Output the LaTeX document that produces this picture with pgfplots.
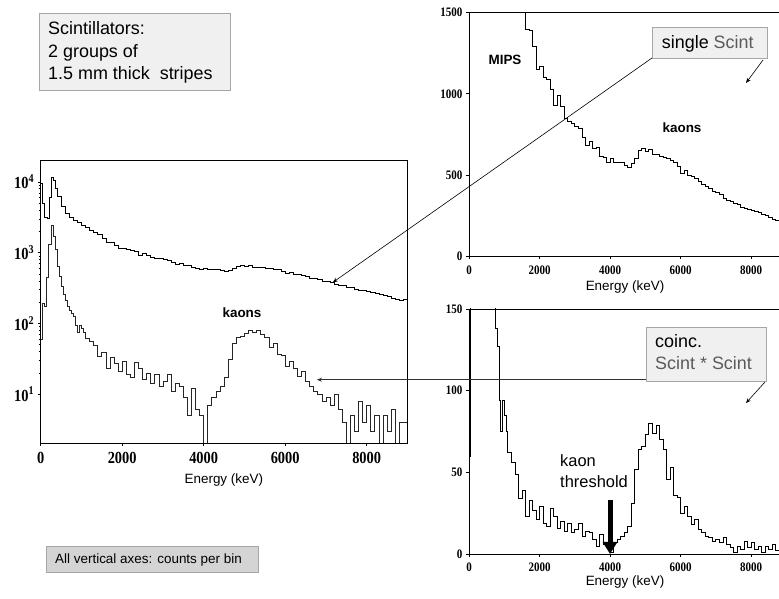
\documentclass[border=0pt]{standalone}
\usepackage{fontspec}
\setmainfont{Liberation Sans}
\newfontfamily\tickfont{Liberation Serif}[FakeStretch=0.85]
\usepackage{pgfplots}
\pgfplotsset{compat=1.18}
\usepackage{pgfplotstable}
\usetikzlibrary{arrows.meta}
\definecolor{boxfill}{HTML}{F0F0F0}
\definecolor{boxfillb}{HTML}{D4D4D4}
\definecolor{boxline}{HTML}{A6A6A6}
\definecolor{scintgray}{HTML}{5A5A5A}

\pgfplotstableread{
E v
0 9500
50 5000
100 3200
150 3100
200 6000
250 11500
300 10500
350 8000
400 6200
500 4500
600 3600
700 3200
800 2900
900 2700
1000 2450
1100 2300
1200 2100
1300 1950
1400 1800
1500 1600
1600 1400
1700 1390
1800 1290
1900 1150
2000 1170
2100 1100
2200 1090
2300 1030
2400 930
2500 990
2600 920
2700 850
2800 830
2900 820
3000 800
3100 790
3200 730
3300 680
3400 710
3500 665
3600 670
3700 615
3800 610
3900 575
4000 600
4100 580
4200 575
4300 580
4400 560
4500 545
4600 570
4700 600
4800 650
4900 665
5000 645
5100 660
5200 630
5300 630
5400 615
5500 610
5600 600
5700 590
5800 575
5900 550
6000 510
6100 530
6200 500
6300 490
6400 480
6500 460
6600 440
6700 430
6800 420
6900 400
7000 395
7100 380
7200 355
7300 345
7400 340
7500 325
7600 320
7700 300
7800 295
7900 290
8000 280
8100 275
8200 270
8300 260
8400 250
8500 240
8600 225
8700 220
8800 215
8900 220
9000 220
}\single

\pgfplotstableread{
E v
0 60
50 190
100 175
150 450
200 1300
250 2400
300 1700
350 1100
400 650
450 460
500 330
550 260
600 210
650 175
700 155
750 138
800 127
850 94
900 75
950 94
1000 85
1050 75
1100 62
1200 56
1300 49
1400 34
1500 39
1600 23
1700 33
1800 27
1900 21
2000 29
2100 19
2200 17
2300 28
2400 23
2500 16
2600 20
2700 14
2800 19
2900 13
3000 15
3100 19
3200 11
3300 14
3400 13
3500 9
3600 5
3700 12
3800 6
3900 5
4000 1
4100 7
4200 9
4300 11
4400 13
4500 17
4600 31
4700 52
4800 64
4900 66
5000 73
5100 80
5200 74
5300 79
5400 70
5500 64
5600 46
5700 53
5800 36
5900 35
6000 25
6100 29
6200 23
6300 18
6400 21
6500 15
6600 13
6700 11
6800 10
6900 8
7000 9
7100 7
7200 10
7300 6
7400 4
7500 1
7600 5
7700 3
7800 8
7900 4
8000 7
8100 3
8200 5
8300 1
8400 5
8500 3
8600 6
8700 2
8800 4
8900 4
9000 4
}\coinc

\newcommand{\tfL}{\tickfont\bfseries\fontsize{17}{17}\selectfont}
\newcommand{\tfR}{\tickfont\bfseries\fontsize{13}{13}\selectfont}
\newcommand{\lf}{\fontsize{13.5}{13.5}\selectfont}

\pgfplotsset{
  panel/.style={
    scale only axis, anchor=south west,
    xtick pos=bottom, ytick pos=left,
    tick align=outside, major tick length=3bp, minor tick length=2bp,
    tick style={black, line width=0.6bp},
    xlabel={Energy (keV)},
    axis line style={line width=0.8bp},
    xtick={0,2000,4000,6000,8000},
    xticklabels={0,2000,4000,6000,8000},
  },
}

\begin{document}
\begin{tikzpicture}[x=1bp,y=1bp]
\path[use as bounding box] (0,0) rectangle (779,599);

% ---------- left: log scale ----------
\begin{axis}[panel,
  at={(40.7bp,156bp)}, width=366.3bp, height=283bp,
  xmin=0, xmax=8990, ymode=log, ymin=2.04, ymax=20400,
  ytick={10,100,1000,10000},
  yticklabels={10\textsuperscript{1},10\textsuperscript{2},10\textsuperscript{3},10\textsuperscript{4}},
  ticklabel style={font=\tfL},
  xticklabel style={anchor=center, yshift=-12bp},
  xlabel style={font=\lf, at={(axis description cs:0.5,0)}, anchor=center, yshift=-37bp},
]
\addplot[const plot mark left, black, line width=0.6bp] table[x=E,y=v] {\single};
\addplot[const plot mark left, black!85, line width=0.7bp] table[x=E,y=v] {\coinc};
\coordinate (pS) at (axis cs:7170,380);
\coordinate (pC) at (axis cs:6780,16);
\node[font=\bfseries\fontsize{13.5}{13.5}\selectfont] at (axis cs:4940,143) {kaons};
\end{axis}

% ---------- right top: single ----------
\begin{axis}[panel,
  at={(469bp,343bp)}, width=312bp, height=243.3bp,
  xmin=0, xmax=8851, ymin=0, ymax=1500,
  ytick={0,500,1000,1500}, yticklabels={0,500,1000,1500},
  ticklabel style={font=\tfR},
  xticklabel style={anchor=center, yshift=-11bp},
  xlabel style={font=\lf, at={(axis description cs:0.5,0)}, anchor=center, yshift=-31bp},
]
\addplot[const plot mark left, black, line width=0.6bp] table[x=E,y=v] {\single};
\node[font=\bfseries\fontsize{13.5}{13.5}\selectfont] at (axis cs:1021,1210) {MIPS};
\node[font=\bfseries\fontsize{13.5}{13.5}\selectfont] at (axis cs:6043,789) {kaons};
\end{axis}

% ---------- right bottom: coincidence ----------
\begin{axis}[panel,
  at={(469bp,45bp)}, width=312bp, height=245bp,
  xmin=0, xmax=8851, ymin=0, ymax=150,
  ytick={0,50,100,150}, yticklabels={0,50,100,150},
  ticklabel style={font=\tfR},
  xticklabel style={anchor=center, yshift=-10bp},
  xlabel style={font=\lf, at={(axis description cs:0.5,0)}, anchor=center, yshift=-28bp},
]
\addplot[const plot mark left, black, line width=0.6bp] table[x=E,y=v] {\coinc};
\draw[line width=5bp, -{Triangle[length=12bp,width=14bp]}] (axis cs:4000,33) -- (axis cs:4000,0);
\end{axis}

\node[anchor=base west, inner sep=0, font=\fontsize{16.5}{16.5}\selectfont] at (560,132) {kaon};
\node[anchor=base west, inner sep=0, font=\fontsize{16.5}{16.5}\selectfont] at (560,111) {threshold};

% ---------- boxes ----------
\draw[boxline, fill=boxfill, line width=0.8bp] (39,509) rectangle (230,586);
\node[anchor=base west, inner sep=0, font=\fontsize{18}{18}\selectfont] at (48,564) {Scintillators:};
\node[anchor=base west, inner sep=0, font=\fontsize{18}{18}\selectfont] at (48,541.7) {2 groups of};
\node[anchor=base west, inner sep=0, font=\fontsize{18}{18}\selectfont] at (48,519) {1.5 mm thick\ \ stripes};

\draw[boxline, fill=boxfillb, line width=0.8bp] (46,27) rectangle (258,53);
\node[anchor=base west, inner sep=0, font=\fontsize{13.5}{13.5}\selectfont] at (55,35) {All vertical axes: counts per bin};

\draw[boxline, fill=boxfill, line width=0.8bp] (652,541) rectangle (767,572);
\node[anchor=base west, inner sep=0, font=\fontsize{18}{18}\selectfont] at (661.7,550.7) {single \textcolor{scintgray}{Scint}};

\draw[boxline, fill=boxfill, line width=0.8bp] (646,218) rectangle (766,272);
\node[anchor=base west, inner sep=0, font=\fontsize{18}{18}\selectfont] at (655,251.7) {coinc.};
\node[anchor=base west, inner sep=0, font=\fontsize{18}{18}\selectfont, text=scintgray] at (655,229) {Scint * Scint};

% ---------- connectors ----------
\coordinate (bx) at (646,0);
\draw[{Stealth[length=5bp,width=4bp]}-, line width=0.6bp] (pS) -- (652,541);
\draw[{Stealth[length=5bp,width=4bp]}-, line width=0.6bp, black!80] (pC) -- (pC -| bx);
\draw[-{Stealth[length=5bp,width=4bp]}, line width=0.6bp] (763,539) -- (746,516);
\draw[-{Stealth[length=5bp,width=4bp]}, line width=0.6bp] (765,217) -- (746,196);
\end{tikzpicture}
\end{document}
